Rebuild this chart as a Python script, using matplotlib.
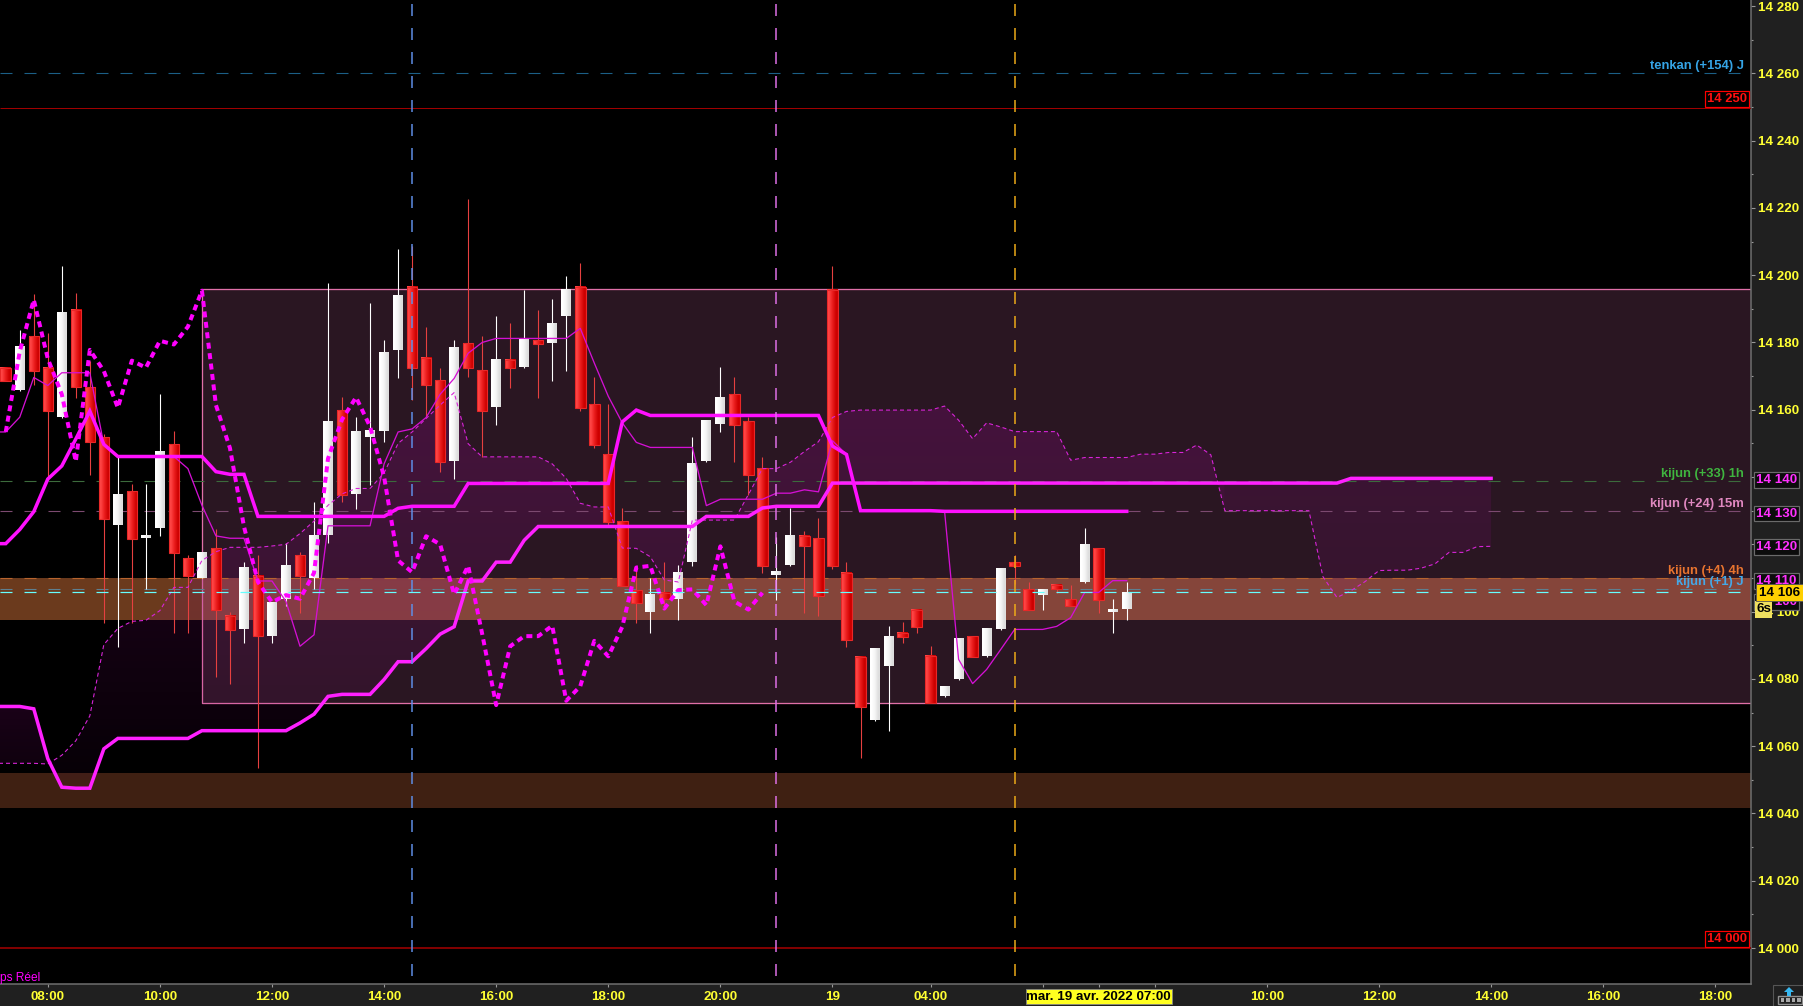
import numpy as np
import matplotlib
matplotlib.use("Agg")
import matplotlib.pyplot as plt
from matplotlib.patches import Rectangle

plt.rcParams["font.family"] = ["Liberation Sans", "DejaVu Sans"]
plt.rcParams["lines.scale_dashes"] = False

W, H = 1803, 1006
PX = 0.72  # one pixel in points at dpi 100

# bougies 15 min: ouverture, plus haut, plus bas, cloture
opens = [14172.5, 14165.8, 14181.8, 14172.5, 14157.8, 14189.6, 14166.7, 14151.8, 14125.7, 14135.7,
         14121.9, 14124.9, 14149.7, 14115.8, 14110.0, 14118.9, 14098.8, 14094.8, 14110.7, 14092.7,
         14103.8, 14116.7, 14110.0, 14122.8, 14159.8, 14134.9, 14151.8, 14153.6, 14177.7, 14196.6,
         14175.5, 14168.8, 14144.8, 14179.7, 14171.8, 14160.7, 14174.8, 14172.6, 14180.7, 14179.9,
         14187.8, 14196.6, 14161.6, 14146.7, 14126.8, 14106.5, 14099.8, 14105.6, 14103.8, 14114.7,
         14144.7, 14155.8, 14164.6, 14156.6, 14142.6, 14110.8, 14113.8, 14122.6, 14121.8, 14195.7,
         14111.6, 14086.6, 14067.7, 14083.9, 14093.7, 14100.6, 14086.7, 14074.9, 14079.9, 14092.6,
         14086.7, 14094.8, 14114.7, 14106.6, 14105.0, 14107.8, 14103.6, 14108.7, 14118.8, 14099.9,
         14100.8]
closes = [14168.6, 14178.6, 14171.6, 14159.7, 14188.8, 14166.7, 14150.4, 14127.6, 14134.9, 14121.7,
          14122.7, 14147.7, 14117.5, 14110.6, 14117.6, 14100.6, 14094.6, 14113.0, 14092.6, 14102.8,
          14113.8, 14110.6, 14122.7, 14156.6, 14134.7, 14153.6, 14153.6, 14176.9, 14193.8, 14172.5,
          14167.4, 14144.5, 14178.6, 14172.5, 14159.7, 14174.8, 14172.4, 14180.7, 14179.6, 14185.8,
          14195.6, 14160.6, 14149.6, 14126.7, 14107.7, 14102.7, 14104.9, 14103.6, 14111.7, 14143.9,
          14156.6, 14163.7, 14155.5, 14140.6, 14113.6, 14111.7, 14122.7, 14119.5, 14104.7, 14113.6,
          14091.6, 14071.7, 14088.9, 14092.7, 14092.5, 14095.4, 14072.7, 14077.8, 14091.8, 14086.5,
          14094.8, 14112.9, 14113.6, 14100.5, 14106.6, 14106.6, 14101.7, 14119.7, 14103.5, 14100.7,
          14105.8]
highs = [14172.5, 14183.7, 14194.5, 14182.8, 14202.7, 14194.7, 14174.6, 14152.7, 14146.0, 14137.9,
         14137.9, 14164.7, 14153.6, 14116.8, 14117.6, 14124.7, 14099.8, 14114.7, 14116.8, 14103.0,
         14120.5, 14117.6, 14132.7, 14197.7, 14163.7, 14157.7, 14191.6, 14180.7, 14207.8, 14208.6,
         14184.7, 14172.5, 14180.7, 14222.6, 14181.9, 14187.8, 14185.8, 14195.6, 14189.6, 14192.9,
         14199.7, 14203.5, 14169.7, 14161.7, 14130.8, 14113.1, 14109.9, 14114.7, 14113.8, 14151.8,
         14156.6, 14172.6, 14169.7, 14157.7, 14145.9, 14122.1, 14130.8, 14123.9, 14127.8, 14202.8,
         14114.7, 14086.6, 14088.9, 14095.7, 14096.8, 14100.6, 14089.7, 14077.8, 14091.8, 14092.6,
         14094.8, 14112.9, 14116.8, 14108.7, 14106.6, 14107.8, 14107.9, 14124.8, 14118.8, 14103.7,
         14108.7]
lows = [14168.6, 14165.6, 14167.5, 14139.1, 14157.6, 14163.5, 14140.6, 14096.6, 14089.5, 14096.6,
        14106.6, 14122.4, 14093.6, 14093.6, 14110.0, 14080.7, 14078.6, 14090.8, 14053.6, 14090.8,
        14101.7, 14099.6, 14106.6, 14120.4, 14132.5, 14130.6, 14137.6, 14150.3, 14169.4, 14163.0,
        14157.7, 14141.4, 14139.5, 14169.6, 14146.0, 14155.4, 14166.6, 14172.4, 14163.5, 14168.5,
        14171.5, 14159.7, 14148.6, 14125.7, 14107.6, 14096.6, 14093.6, 14100.9, 14097.6, 14113.6,
        14144.4, 14153.4, 14144.4, 14134.8, 14111.5, 14103.5, 14113.6, 14099.6, 14098.7, 14112.8,
        14089.5, 14056.6, 14067.4, 14064.4, 14090.8, 14093.7, 14072.7, 14074.6, 14079.6, 14086.5,
        14086.5, 14094.5, 14108.3, 14100.5, 14100.4, 14105.6, 14101.7, 14108.5, 14099.6, 14093.7,
        14097.5]

# kijun 15m (commence a la barre -1)
kijun_fast = ([14120.2, 14120.2, 14124.4, 14129.7, 14139.4, 14143.3, 14151.3, 14159.6, 14149.7]
              + [14146.1] * 7 + [14141.6, 14140.8, 14140.8] + [14128.3] * 10 + [14130.7]
              + [14131.3] * 4 + [14138.1] * 11 + [14156.4, 14159.9] + [14158.3] * 13
              + [14149.2, 14146.7] + [14130.0] * 6 + [14129.8] * 14)

# tenkan (commence a la barre -1)
tenkan = ([14153.4, 14153.4, 14157.8, 14169.6, 14167.2, 14171.0, 14171.0, 14171.0, 14149.7]
          + [14146.1] * 5 + [14142.5, 14131.6, 14122.5, 14121.8, 14121.8, 14109.1, 14109.1, 14103.0,
                             14089.7, 14093.1] + [14125.5] * 4
          + [14143.9, 14153.4, 14154.3, 14157.7, 14164.6, 14169.3, 14176.8, 14180.0] + [14181.2] * 6
          + [14184.2, 14173.9, 14164.0, 14156.1, 14150.3] + [14148.8] * 4 + [14131.5] + [14133.4] * 4
          + [14135.2, 14135.2, 14136.2, 14135.6, 14150.8, 14146.7] + [14130.0] * 6
          + [14129.8, 14085.8, 14078.6, 14082.8, 14088.7, 14094.7, 14094.7, 14094.7, 14095.6, 14098.2,
             14105.7, 14105.7, 14109.2, 14109.2])

# chikou, barre 0 a 54
chikou = [14153.4, 14177.3, 14192.7, 14175.2, 14164.6, 14144.6, 14177.8, 14171.5, 14160.6, 14174.6,
          14172.5, 14180.5, 14179.4, 14184.7, 14195.4, 14161.4, 14148.6, 14125.3, 14108.8, 14102.8,
          14104.9, 14103.8, 14111.5, 14145.5, 14157.1, 14163.7, 14155.0, 14140.1, 14115.2, 14111.7,
          14122.4, 14120.0, 14105.1, 14113.6, 14093.4, 14072.2, 14089.7, 14092.7, 14092.7, 14095.8,
          14073.5, 14077.8, 14091.3, 14086.7, 14095.5, 14113.1, 14113.6, 14100.9, 14106.4, 14106.6,
          14101.9, 14119.4, 14103.0, 14100.6, 14105.6]

# nuage: barre -1 a 106
span_a = ([14071.8, 14071.8, 14071.8, 14071.1, 14056.3, 14047.8, 14047.5, 14047.5, 14059.2]
          + [14062.3] * 6 + [14064.6] * 7 + [14066.9, 14069.5, 14074.8] + [14075.4] * 3
          + [14079.8, 14085.1, 14085.1, 14089.0, 14093.3, 14095.5, 14109.1, 14109.1, 14114.7, 14114.7,
             14121.2] + [14125.3] * 12 + [14128.3] * 4 + [14130.8] + [14131.3] * 4
          + [14138.2] * 37 + [14139.6] * 11)
span_b = ([14054.9] * 4 + [14054.7, 14057.3, 14061.6, 14069.0, 14090.2, 14095.0, 14097.1, 14097.4,
                           14100.3, 14107.2, 14107.2, 14115.2, 14117.8, 14119.1, 14119.1, 14119.1,
                           14119.5, 14120.0, 14123.2, 14126.9, 14131.6, 14135.0, 14136.6, 14136.6,
                           14141.2, 14150.0, 14153.4, 14157.4, 14161.4, 14165.1, 14149.9]
          + [14146.0] * 5 + [14143.9, 14139.6, 14132.2, 14131.1, 14131.1, 14118.9, 14118.8, 14116.3,
                             14109.4, 14108.8] + [14127.2] * 4
          + [14134.8, 14142.5, 14142.5, 14144.4, 14147.6, 14150.5, 14157.7, 14159.5] + [14159.9] * 6
          + [14161.1, 14156.9, 14151.4, 14156.1, 14154.9] + [14153.5] * 4 + [14145.0] + [14145.8] * 4
          + [14146.8, 14146.8, 14147.3, 14147.3, 14149.5, 14146.6] + [14130.0] * 7
          + [14110.4, 14104.2, 14106.2, 14108.9, 14112.2, 14112.3, 14112.3, 14112.9, 14114.2, 14117.6,
             14117.6, 14119.3, 14119.4])

box_top, box_bottom, box_start = 14196.0, 14072.7, 14
band_high = (14109.9, 14097.5)
band_low = (14052.0, 14041.6)
vlines_bars = [29, 55, 72]
vlines_colors = ["#5f8fe8", "#e070e8", "#f0ac18"]

y_ticks = list(range(14000, 14281, 20))
y_labels = ["14 000", "14 020", "14 040", "14 060", "14 080", "14 100", "14 120", "14 140",
            "14 160", "14 180", "14 200", "14 220", "14 240", "14 260", "14 280"]
x_ticks = [3, 11, 19, 27, 35, 43, 51, 59, 66, 74, 78, 82, 90, 98, 106, 114, 122]
x_labels = ["08:00", "10:00", "12:00", "14:00", "16:00", "18:00", "20:00", "19", "04:00", "", "", "",
            "10:00", "12:00", "14:00", "16:00", "18:00"]

ref_lines = [(14260.0, "#1b5f86", "tenkan (+154) J", "#35a4e6"),
             (14138.7, "#3c6b3c", "kijun (+33) 1h", "#3fb53f"),
             (14129.8, "#7c4a70", "kijun (+24) 15m", "#e088c0"),
             (14109.9, "#b8642e", "kijun (+4) 4h", "#e8742f"),
             (14106.6, "#5e7f90", "kijun (+1) J", "#45a8e8")]
magenta_boxes = [14140, 14130, 14120, 14110]
hidden_box = 14103.4

fig = plt.figure(figsize=(W / 100, H / 100), dpi=100, facecolor="#202020")
ax = fig.add_axes([0, (H - 984) / H, 1751 / W, 984 / H], facecolor="black")

xlim = (-0.41, 124.55)
ylim = (13989.3, 14281.8)

# fond: rectangle puis bandes
ax.add_patch(Rectangle((box_start, box_bottom), xlim[1] - box_start, box_top - box_bottom,
                       fc="#2a1622", ec="none", zorder=1))
ax.fill_between([xlim[0], box_start], band_high[1], band_high[0], color="#6b3a1d", lw=0, zorder=1.5)
ax.fill_between([box_start, xlim[1]], band_high[1], band_high[0], color="#85453a", lw=0, zorder=1.5)
ax.fill_between(xlim, band_low[1], band_low[0], color="#3f2012", lw=0, zorder=1.5)
ax.plot([xlim[1], box_start, box_start, xlim[1]], [box_top, box_top, box_bottom, box_bottom],
        color="#e070a8", lw=1.3 * PX, zorder=1.6)


# nuage en degrade vertical
def draw_cloud(first, last, strength):
    bars = np.arange(-1, len(span_a) - 1)
    keep = (bars >= first) & (bars <= last)
    poly = ax.fill_between(bars[keep], np.array(span_a)[keep], np.array(span_b)[keep],
                           color="none", lw=0)
    prices = np.linspace(14170, 14040, 130)
    grad = np.zeros((130, 1, 4))
    grad[..., 0] = 140 / 255
    grad[..., 1] = 10 / 255
    grad[..., 2] = 130 / 255
    grad[:, 0, 3] = np.clip(0.08 + (prices - 14065) * 0.0021, 0.03, 0.4) * strength
    im = ax.imshow(grad, extent=(first, last, 14040, 14170), aspect="auto", zorder=2)
    im.set_clip_path(poly.get_paths()[0], transform=ax.transData)


draw_cloud(-1, 3, 2.0)
draw_cloud(3, 87, 1.0)
draw_cloud(87, 106, 0.75)

for price, color, label, text_color in ref_lines:
    ax.hlines(price, xlim[0], xlim[1], color=color, lw=1.1 * PX, linestyles=(0, (12 * PX, 12 * PX)), zorder=3)
    ax.annotate(label, xy=(1, price), xycoords=ax.get_yaxis_transform(), xytext=(-5, 5),
                textcoords="offset points", ha="right", va="center", color=text_color,
                fontsize=9.4, fontweight="bold", zorder=12)

ax.hlines(14249.6, xlim[0], xlim[1], color="#a00000", lw=1.0 * PX, zorder=3)
ax.hlines(14000, xlim[0], xlim[1], color="#800000", lw=2 * PX, zorder=3)

# bougies
red_grad = np.array([[[255, 70, 70], [235, 30, 30], [205, 0, 0]]]) / 255
white_grad = np.array([[[255, 255, 255], [245, 245, 245], [222, 222, 222]]]) / 255
min_body = 2.4 / 3.364
for i, (o, h, l, c) in enumerate(zip(opens, highs, lows, closes)):
    up = c >= o
    top, bottom = max(o, c), min(o, c)
    if top - bottom < min_body:
        top = bottom + min_body
    half = 0.355 if up else 0.375
    ax.vlines(i, l, h, color="#ffffff" if up else "#e64040", lw=1.1 * PX, zorder=4)
    ax.imshow(white_grad if up else red_grad, extent=(i - half, i + half, bottom, top), aspect="auto",
              interpolation="bilinear", zorder=5)
    if not up:
        ax.add_patch(Rectangle((i - half, bottom), 2 * half, top - bottom, fc="none", ec="#e82828",
                               lw=1.1 * PX, zorder=5.1))

# lignes ichimoku
bars_all = np.arange(-1, len(span_a) - 1)
ax.plot(bars_all, span_b, color="#d824d8", lw=1.1 * PX, ls=(0, (4 * PX, 3 * PX)), zorder=6)
ax.plot(np.arange(-1, len(tenkan) - 1), tenkan, color="#d410d4", lw=1.3 * PX, zorder=6.1)
ax.plot(bars_all, span_a, color="#ff20ff", lw=3.5 * PX, zorder=6.3, solid_joinstyle="miter")
ax.plot(np.arange(-1, len(kijun_fast) - 1), kijun_fast, color="#ff10ff", lw=3.5 * PX, zorder=6.4,
        solid_joinstyle="miter")
ax.plot(np.arange(len(chikou)), chikou, color="#ff00ff", lw=4 * PX, ls=(0, (6 * PX, 4.5 * PX)), zorder=6.5)

ax.hlines(14105.7, xlim[0], xlim[1], color="#66ffff", lw=1.2 * PX, linestyles=(0, (12 * PX, 12 * PX)), zorder=7)

for bar, color in zip(vlines_bars, vlines_colors):
    ax.vlines(bar, 13991.7, 14280.6, color=color, lw=1.5 * PX, linestyles=(0, (12 * PX, 12 * PX)), zorder=8)

ax.set_xlim(xlim)
ax.set_ylim(ylim)

ax.yaxis.tick_right()
ax.set_yticks(y_ticks)
ax.set_yticklabels(y_labels, color="#ffff33", fontsize=9.6, fontweight="bold")
ax.set_yticks(list(range(14010, 14280, 20)), minor=True)
ax.tick_params(axis="y", which="major", length=3, width=0.8, color="#999999", pad=2)
ax.tick_params(axis="y", which="minor", length=1.5, width=0.8, color="#999999")
ax.set_xticks(x_ticks)
ax.set_xticklabels(x_labels, color="#ffff33", fontsize=9.6, fontweight="bold")
ax.tick_params(axis="x", length=2.5, width=0.8, color="#999999", pad=2.2)
ax.xaxis.get_major_ticks()[10].tick1line.set_color("#ffff33")
for side in ["left", "top"]:
    ax.spines[side].set_visible(False)
for side in ["right", "bottom"]:
    ax.spines[side].set_color("#707070")
    ax.spines[side].set_linewidth(1.5 * PX)

# etiquettes rouges
for price, line_price in [(14250, 14249.6), (14000, 14000)]:
    ax.annotate(f"{price // 1000} {price % 1000:03d}", xy=(1, line_price), xycoords=ax.get_yaxis_transform(),
                xytext=(-17.5, 6.5), textcoords="offset points", ha="center", va="center", color="#ff1010",
                fontsize=9.4, fontweight="bold", zorder=12,
                bbox=dict(boxstyle="square,pad=0.16", fc="black", ec="#ff0000", lw=1.2 * PX))

# etiquettes magenta sur l'axe
ax.text(1776.5 / 1751, hidden_box, "14 100", transform=ax.get_yaxis_transform(),
        ha="center", va="center_baseline", color="#ff30ff", fontsize=9.6, fontweight="bold", zorder=13,
        bbox=dict(boxstyle="square,pad=0.14", fc="#0c0c0c", ec="#6a6a6a", lw=1.2 * PX))
for price in magenta_boxes:
    ax.text(1776.5 / 1751, price - 0.4, f"{price // 1000} {price % 1000:03d}", transform=ax.get_yaxis_transform(),
            ha="center", va="center_baseline", color="#ff30ff", fontsize=9.6, fontweight="bold", zorder=13,
            bbox=dict(boxstyle="square,pad=0.14", fc="#0c0c0c", ec="#6a6a6a", lw=1.2 * PX))


def px_rect(x0, y0, x1, y1, **kw):
    fig.add_artist(Rectangle((x0 / W, 1 - y1 / H), (x1 - x0) / W, (y1 - y0) / H,
                             transform=fig.transFigure, **kw))


def px_text(x, y, s, **kw):
    fig.text(x / W, 1 - y / H, s, ha="center", va="center", fontweight="bold", fontsize=9.6, zorder=20, **kw)


# prix courant et compte a rebours
px_rect(1755, 601, 1771.5, 617.5, fc="#efe060", ec="none", zorder=15)
px_text(1763.5, 609.5, "6s", color="black")
px_rect(1755.7, 584, 1803, 601, fc="#ffd000", ec="#555555", lw=0.6, zorder=15)
px_text(1779.5, 592.5, "14 106", color="black")

# date courante
px_rect(1025.6, 989, 1171.5, 1004, fc="#ffff20", ec="#888888", lw=0.6, zorder=15)
px_text(1098.5, 996.5, "mar. 19 avr. 2022 07:00", color="black")

fig.text(0, 1 - 978 / H, "ps Réel", color="#ff00ff", fontsize=8.6, ha="left", va="center", zorder=20)

# icone clavier
px_rect(1773, 985, 1804, 1007, fc="none", ec="#555555", lw=0.8, zorder=15)
px_rect(1778, 996, 1802, 1004, fc="#202020", ec="#909090", lw=1, zorder=15)
for kx in [1780.5, 1786, 1791.5, 1797]:
    px_rect(kx, 998, kx + 3.5, 1002, fc="#a8a8a8", ec="none", zorder=16)
fig.add_artist(plt.Polygon([(1784 / W, 1 - 992 / H), (1789 / W, 1 - 987 / H), (1794 / W, 1 - 992 / H),
                            (1791 / W, 1 - 992 / H), (1791 / W, 1 - 996 / H), (1787 / W, 1 - 996 / H),
                            (1787 / W, 1 - 992 / H)], transform=fig.transFigure, fc="#38b8f0", ec="none",
                           zorder=16))

fig.add_artist(plt.Line2D([0, 1], [0.5 / H, 0.5 / H], color="#666666", lw=0.7, zorder=14))

fig.savefig("out.png", dpi=100, facecolor=fig.get_facecolor())
